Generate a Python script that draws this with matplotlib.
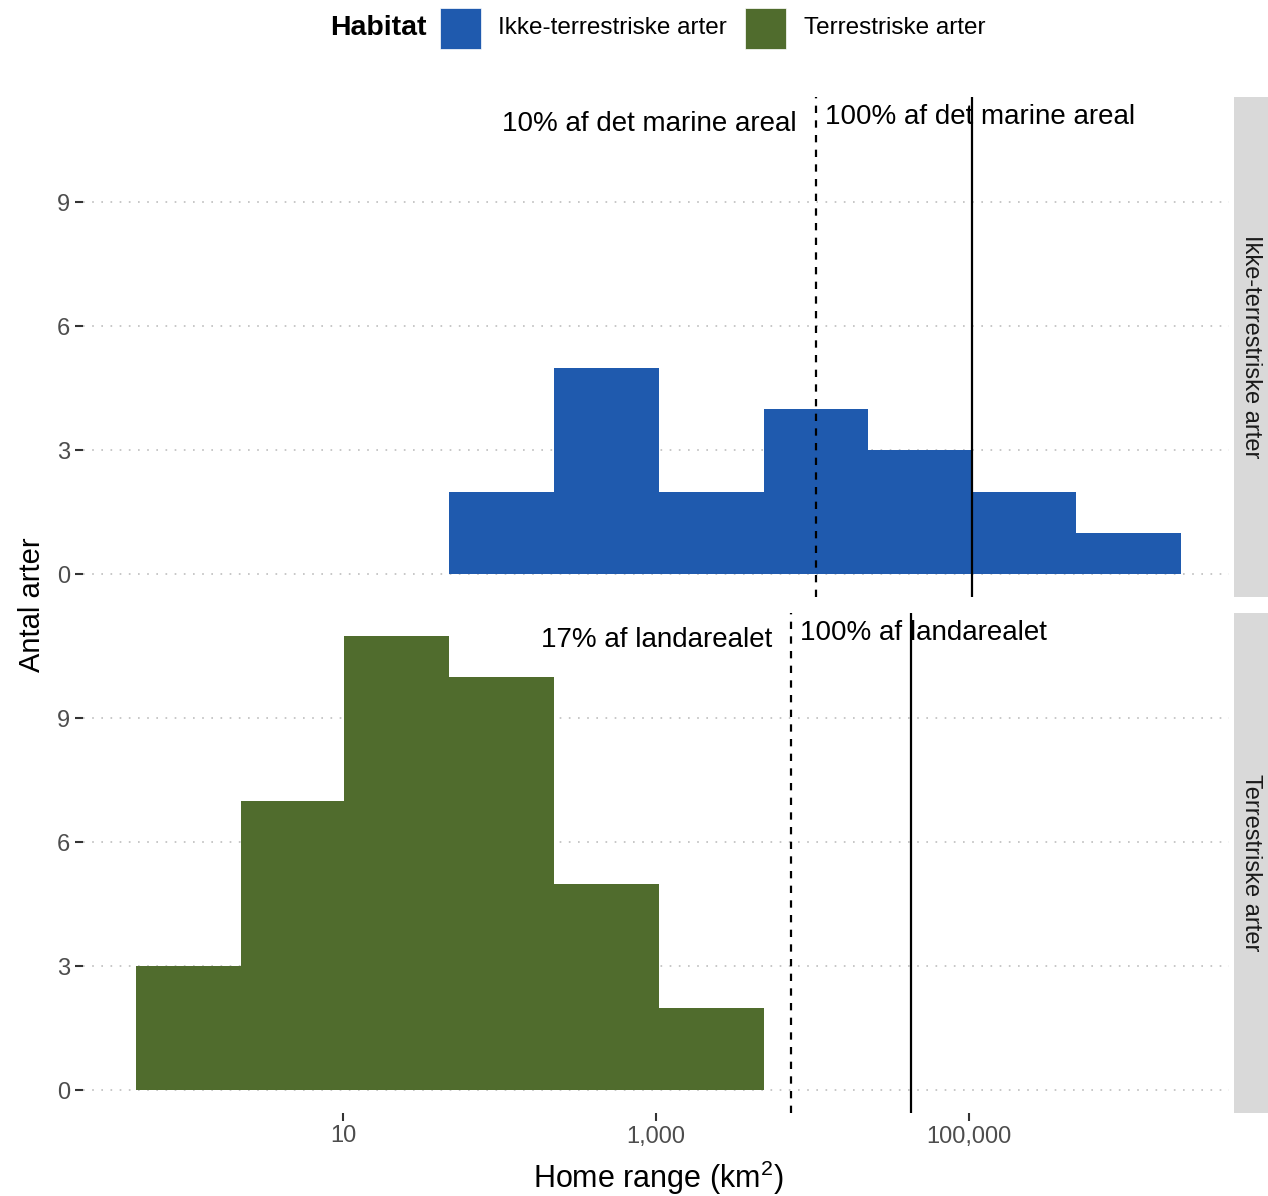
import numpy as np
import matplotlib
matplotlib.use('Agg')
import matplotlib.pyplot as plt
from matplotlib.patches import Rectangle
from matplotlib.ticker import FixedLocator, FuncFormatter

plt.rcParams['font.family'] = ['Liberation Sans', 'DejaVu Sans']
plt.rcParams['mathtext.fontset'] = 'custom'
plt.rcParams['mathtext.rm'] = 'Liberation Sans'
plt.rcParams['mathtext.it'] = 'Liberation Sans:italic'

# data (log10 bin edges)
bin_edges = [-0.331, 0.341, 1.006, 1.678, 2.350, 3.016, 3.688, 4.354, 5.019, 5.691, 6.363]
counts_marine = [0, 0, 0, 2, 5, 2, 4, 3, 2, 1]
counts_land = [3, 7, 11, 10, 5, 2, 0, 0, 0, 0]

habitats = ['Ikke-terrestriske arter', 'Terrestriske arter']
colors = ['#1F5AAE', '#506C2D']

# reference areas (km2)
marine_area = 105000.0
land_area = 42900.0
marine_dash = 0.10 * marine_area
land_dash = 0.17 * land_area

labels_marine = ['10% af det marine areal', '100% af det marine areal']
labels_land = ['17% af landarealet', '100% af landarealet']

x_ticks = [10, 1000, 100000]
y_ticks = [0, 3, 6, 9]

W, H = 1268, 1196
fig = plt.figure(figsize=(W / 100.0, H / 100.0), dpi=100)
fig.patch.set_facecolor('white')


def px_axes(l, t, r, b):
    return fig.add_axes([l / W, 1 - b / H, (r - l) / W, (b - t) / H])


def setup_panel(ax, show_x):
    ax.set_xscale('log')
    ax.set_xlim(10 ** -0.667, 10 ** 6.667)
    ax.set_ylim(-0.55, 11.55)
    for s in ax.spines.values():
        s.set_visible(False)
    ax.yaxis.set_major_locator(FixedLocator(y_ticks))
    ax.xaxis.set_major_locator(FixedLocator(x_ticks))
    ax.xaxis.set_minor_locator(FixedLocator([]))
    ax.xaxis.set_major_formatter(FuncFormatter(lambda v, p: '{:,.0f}'.format(v)))
    ax.tick_params(axis='both', length=6, width=1.5, color='#333333',
                   labelsize=17, labelcolor='#4D4D4D', pad=3)
    if not show_x:
        ax.tick_params(axis='x', bottom=False, labelbottom=False)
    ax.yaxis.grid(True, color='#BDBDBD', lw=1.2, ls=(0, (1, 4.5)))
    ax.xaxis.grid(False)
    ax.set_axisbelow(True)


def draw_hist(ax, counts, color):
    left = []
    width = []
    h = []
    for i, c in enumerate(counts):
        if c == 0:
            continue
        left.append(10 ** bin_edges[i])
        width.append(10 ** bin_edges[i + 1] - 10 ** bin_edges[i])
        h.append(c)
    ax.bar(left, h, width=width, align='edge', color=color, linewidth=0, zorder=2)


def draw_lines(ax, dash, full, labels):
    ax.axvline(dash, color='black', lw=1.6, ls=(0, (3.3, 3.3)), zorder=3)
    ax.axvline(full, color='black', lw=1.6, zorder=3)
    ax.annotate(labels[0], (dash, 10.89), xytext=(-19, 0), textcoords='offset pixels',
                ha='right', va='center', fontsize=20, color='black')
    ax.annotate(labels[1], (dash, 11.06), xytext=(9, 0), textcoords='offset pixels',
                ha='left', va='center', fontsize=20, color='black')


ax1 = px_axes(83, 97, 1229, 597)
setup_panel(ax1, False)
draw_hist(ax1, counts_marine, colors[0])
draw_lines(ax1, marine_dash, marine_area, labels_marine)

ax2 = px_axes(83, 613, 1229, 1113)
setup_panel(ax2, True)
draw_hist(ax2, counts_land, colors[1])
draw_lines(ax2, land_dash, land_area, labels_land)

# facet strips
for (t, b), lab in zip([(97, 597), (613, 1113)], habitats):
    sax = px_axes(1234, t, 1268, b)
    sax.set_facecolor('#D9D9D9')
    sax.set_xticks([])
    sax.set_yticks([])
    for s in sax.spines.values():
        s.set_visible(False)
    sax.text(0.5, 0.5, lab, rotation=-90, ha='center', va='center',
             fontsize=17, color='#1A1A1A', transform=sax.transAxes)

# axis titles
fig.text(658 / W, 1 - 1178 / H, 'Home range (km$^2$)', ha='center', va='center', fontsize=22)
fig.text(32 / W, 1 - 605 / H, 'Antal arter', ha='center', va='center', rotation=90, fontsize=21)

# legend at top
fig.text(330 / W, 1 - 28 / H, 'Habitat', ha='left', va='center', fontsize=20.5, fontweight='bold')
for (x0, tx), lab, col in zip([(440, 498), (745, 804)], habitats, colors):
    fig.patches.append(Rectangle((x0 / W, 1 - 49 / H), 41 / W, 41 / H,
                                 transform=fig.transFigure, facecolor=col,
                                 edgecolor='white', lw=0.5))
    fig.text(tx / W, 1 - 28 / H, lab, ha='left', va='center', fontsize=17.5)

fig.savefig('out.png', dpi=100)
